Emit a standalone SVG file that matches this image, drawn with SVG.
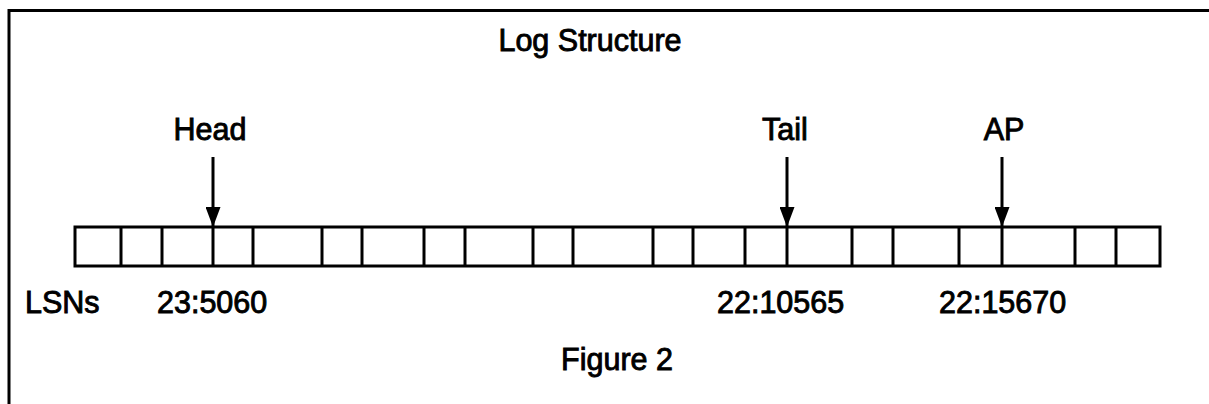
<svg xmlns="http://www.w3.org/2000/svg" width="1209" height="404" viewBox="0 0 1209 404">
  <style>
    .frame { stroke: #000; stroke-width: 3; fill: none; }
    .cell { stroke: #000; stroke-width: 3; fill: #fff; }
    .div { stroke: #000; stroke-width: 3; }
    .lbl { font-family: "Liberation Sans", Arial, Helvetica, sans-serif; font-size: 30.5px; fill: #000; stroke: #000; stroke-width: 0.9; }
    .ptr { stroke: #000; stroke-width: 3; }
  </style>
  <defs>
    <marker id="arrow" viewBox="0 0 20 15" refX="20" refY="7.5" markerWidth="6.667" markerHeight="5" markerUnits="strokeWidth" orient="auto">
      <path d="M0,0 L20,7.5 L0,15 Z" fill="#000"/>
    </marker>
  </defs>

  <rect width="1209" height="404" fill="#fff"/>

  <!-- outer frame: top and left edges -->
  <g id="frame">
    <path class="frame" d="M9,404 V10.5 H1209"/>
  </g>

  <g id="title">
    <text class="lbl" x="590" y="51" text-anchor="middle">Log Structure</text>
  </g>

  <!-- log record strip -->
  <g id="log">
    <rect class="cell" x="75" y="227" width="1085" height="39"/>
    <g class="div">
      <line x1="121" y1="227" x2="121" y2="266"/>
      <line x1="162" y1="227" x2="162" y2="266"/>
      <line x1="213" y1="227" x2="213" y2="266"/>
      <line x1="253" y1="227" x2="253" y2="266"/>
      <line x1="322" y1="227" x2="322" y2="266"/>
      <line x1="362" y1="227" x2="362" y2="266"/>
      <line x1="424" y1="227" x2="424" y2="266"/>
      <line x1="465" y1="227" x2="465" y2="266"/>
      <line x1="533" y1="227" x2="533" y2="266"/>
      <line x1="573" y1="227" x2="573" y2="266"/>
      <line x1="653" y1="227" x2="653" y2="266"/>
      <line x1="693" y1="227" x2="693" y2="266"/>
      <line x1="745" y1="227" x2="745" y2="266"/>
      <line x1="787" y1="227" x2="787" y2="266"/>
      <line x1="852" y1="227" x2="852" y2="266"/>
      <line x1="893" y1="227" x2="893" y2="266"/>
      <line x1="959" y1="227" x2="959" y2="266"/>
      <line x1="1002" y1="227" x2="1002" y2="266"/>
      <line x1="1075" y1="227" x2="1075" y2="266"/>
      <line x1="1116" y1="227" x2="1116" y2="266"/>
    </g>
  </g>

  <g id="head">
    <text class="lbl" x="210" y="140" text-anchor="middle">Head</text>
  </g>
  <g id="tail">
    <text class="lbl" x="785" y="140" text-anchor="middle">Tail</text>
  </g>
  <g id="ap">
    <text class="lbl" x="1004" y="140" text-anchor="middle">AP</text>
  </g>

  <!-- pointers into the log -->
  <g id="connectors">
    <line class="ptr" x1="213" y1="157" x2="213" y2="227" marker-end="url(#arrow)"/>
    <line class="ptr" x1="787" y1="157" x2="787" y2="227" marker-end="url(#arrow)"/>
    <line class="ptr" x1="1002" y1="157" x2="1002" y2="227" marker-end="url(#arrow)"/>
  </g>

  <g id="lsns">
    <text class="lbl" x="25" y="313">LSNs</text>
    <text class="lbl" x="157" y="313">23:5060</text>
    <text class="lbl" x="717" y="313">22:10565</text>
    <text class="lbl" x="939" y="313">22:15670</text>
  </g>

  <g id="caption">
    <text class="lbl" x="617" y="370" text-anchor="middle">Figure 2</text>
  </g>
</svg>
